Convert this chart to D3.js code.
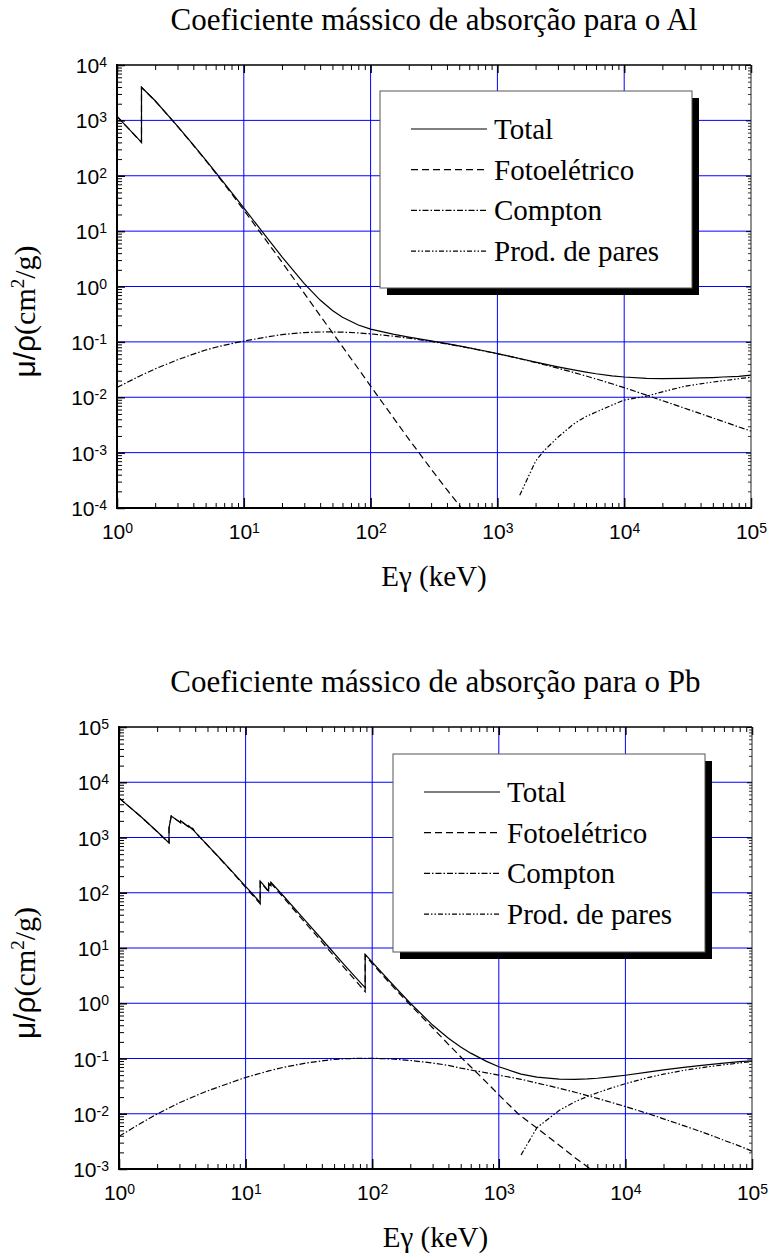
<!DOCTYPE html>
<html>
<head>
<meta charset="utf-8">
<script src="https://cdn.jsdelivr.net/npm/d3@7"></script>
<style>
  body { margin: 0; background: #fff; }
  .serif { font-family: "Liberation Serif", "Times New Roman", Times, serif; }
  .sans { font-family: "Liberation Sans", Arial, Helvetica, sans-serif; }
</style>
</head>
<body>
<svg id="chart"></svg>
<script>
// energies in keV, values in cm2/g
const xExponents = [0, 1, 2, 3, 4, 5];
const alExponents = [-4, -3, -2, -1, 0, 1, 2, 3, 4];
const pbExponents = [-3, -2, -1, 0, 1, 2, 3, 4, 5];
const seriesNames = ["Total", "Fotoelétrico", "Compton", "Prod. de pares"];

const alTotal = [
  [1, 1185], [1.56, 402], [1.56, 3957], [2, 2263], [3, 788], [4, 360], [5, 193], [6, 115],
  [8, 50.3], [10, 26.2], [15, 7.96], [20, 3.44], [30, 1.13], [40, 0.569], [50, 0.368],
  [60, 0.278], [80, 0.202], [100, 0.170], [150, 0.138], [200, 0.122], [300, 0.104],
  [400, 0.0928], [500, 0.0845], [600, 0.078], [800, 0.0684], [1000, 0.0615], [1500, 0.0501],
  [2000, 0.0432], [3000, 0.0354], [4000, 0.0311], [5000, 0.0284], [6000, 0.0266],
  [8000, 0.0244], [10000, 0.0232], [15000, 0.0220], [20000, 0.0217], [30000, 0.0219],
  [40000, 0.0223], [50000, 0.0227], [60000, 0.0232], [80000, 0.0239], [100000, 0.0250]
];
const alPhoto = [
  [1, 1183], [1.56, 400], [1.56, 3950], [2, 2256], [3, 782], [4, 355], [5, 189.5], [6, 112],
  [8, 47.6], [10, 24.0], [15, 6.8], [20, 2.76], [30, 0.752], [40, 0.298], [50, 0.147],
  [60, 0.0822], [80, 0.0327], [100, 0.0159], [150, 0.00438], [200, 0.00176], [300, 0.000506],
  [400, 0.000214], [520, 0.0001]
];
const alCompton = [
  [1, 0.0150], [1.5, 0.0240], [2, 0.0326], [3, 0.0475], [4, 0.060], [5, 0.0712], [6, 0.080],
  [8, 0.093], [10, 0.1034], [15, 0.122], [20, 0.1355], [30, 0.147], [40, 0.1508], [50, 0.1513],
  [60, 0.1499], [80, 0.1451], [100, 0.1395], [150, 0.1268], [200, 0.1166], [300, 0.1019],
  [400, 0.0914], [500, 0.0835], [600, 0.0773], [800, 0.0679], [1000, 0.0611], [1500, 0.0496],
  [2000, 0.0424], [3000, 0.0335], [4000, 0.0280], [5000, 0.0242], [6000, 0.0214],
  [8000, 0.0175], [10000, 0.0149], [15000, 0.0109], [20000, 0.00869], [30000, 0.00634],
  [40000, 0.00506], [50000, 0.00424], [60000, 0.00367], [80000, 0.00291], [100000, 0.00245]
];
const alPair = [
  [1500, 0.00017], [2000, 0.0007], [2300, 0.00105], [3000, 0.0019], [4000, 0.0033],
  [5000, 0.0045], [6000, 0.0054], [8000, 0.0072], [10000, 0.0089], [15000, 0.0105],
  [20000, 0.0125], [30000, 0.0158], [40000, 0.0175], [50000, 0.0188], [60000, 0.0198],
  [80000, 0.0216], [100000, 0.0230]
];

const pbTotal = [
  [1, 5210], [1.5, 2356], [2, 1285], [2.484, 800], [2.484, 1500], [2.586, 2450], [3.066, 1857],
  [3.066, 2010], [3.554, 1550], [3.554, 1620], [3.851, 1380], [3.851, 1420], [4, 1251],
  [5, 730], [6, 467], [8, 229], [10, 130.6], [13.04, 67], [13.04, 162], [15, 112], [15.2, 108],
  [15.2, 148], [15.86, 134], [15.86, 155], [20, 86.4], [30, 30.3], [40, 14.4], [50, 8.04],
  [60, 5.02], [80, 2.42], [88, 1.91], [88, 7.68], [100, 5.55], [150, 2.01], [200, 0.999],
  [300, 0.403], [400, 0.232], [500, 0.161], [600, 0.125], [800, 0.0887], [1000, 0.0710],
  [1500, 0.0522], [2000, 0.0461], [3000, 0.0423], [4000, 0.0420], [5000, 0.0427],
  [6000, 0.0439], [8000, 0.0468], [10000, 0.0497], [15000, 0.0566], [20000, 0.0621],
  [30000, 0.0698], [40000, 0.0753], [50000, 0.0794], [60000, 0.0826], [80000, 0.0875],
  [100000, 0.0910]
];
const pbPhoto = [
  [1, 5200], [1.5, 2350], [2, 1280], [2.484, 797], [2.484, 1490], [2.586, 2440], [3.066, 1850],
  [3.066, 2000], [3.554, 1540], [3.554, 1610], [3.851, 1370], [3.851, 1410], [4, 1240],
  [5, 724], [6, 462], [8, 225], [10, 124.7], [13.04, 63], [13.04, 158], [15, 108], [15.2, 104],
  [15.2, 144], [15.86, 130], [15.86, 150], [20, 80.4], [30, 27.7], [40, 12.9], [50, 7.17],
  [60, 4.42], [80, 2.08], [88, 1.62], [88, 7.4], [100, 5.23], [150, 1.86], [200, 0.93],
  [300, 0.36], [400, 0.18], [515, 0.1], [600, 0.071], [800, 0.037], [1000, 0.022],
  [1420, 0.01], [2000, 0.0055], [3000, 0.0027], [4000, 0.0016], [5300, 0.001]
];
const pbCompton = [
  [1, 0.0039], [1.5, 0.0068], [2, 0.0099], [3, 0.0158], [4, 0.021], [5, 0.0259], [6, 0.030],
  [8, 0.038], [10, 0.0454], [15, 0.059], [20, 0.0693], [30, 0.0827], [40, 0.0905],
  [50, 0.0960], [60, 0.0990], [80, 0.1010], [100, 0.1010], [150, 0.0975], [200, 0.092],
  [300, 0.083], [400, 0.075], [500, 0.067], [600, 0.062], [800, 0.055], [1000, 0.050],
  [1500, 0.042], [2000, 0.036], [3000, 0.029], [4000, 0.0245], [5000, 0.0213], [6000, 0.019],
  [8000, 0.0157], [10000, 0.0135], [15000, 0.0101], [20000, 0.0081], [30000, 0.0059],
  [40000, 0.0047], [50000, 0.0039], [60000, 0.0033], [80000, 0.0026], [100000, 0.0021]
];
const pbPair = [
  [1500, 0.0018], [2000, 0.0056], [3000, 0.0115], [4000, 0.0165], [5000, 0.0205],
  [6000, 0.024], [8000, 0.030], [10000, 0.035], [15000, 0.045], [20000, 0.052],
  [30000, 0.062], [40000, 0.068], [50000, 0.073], [60000, 0.077], [80000, 0.083],
  [100000, 0.088]
];

const width = 773;
const height = 1254;
const dashList = [null, "7,4", "6,2,1.5,2", "5,2,1.5,2,1.5,2"];

const svg = d3.select("#chart").attr("width", width).attr("height", height);

const minorValues = (exps) =>
  exps.slice(0, -1).flatMap((e) => d3.range(2, 10).map((k) => k * 10 ** e));

// "10" with the exponent raised, as in the original
const supLabels = (sel) => {
  sel.attr("font-family", null).attr("font-size", 21).attr("class", "sans");
  sel.selectAll(".tick text").each(function (d) {
    const t = d3.select(this);
    const e = Math.round(Math.log10(d));
    t.text(null).attr("fill", "#000");
    t.append("tspan").text("10");
    t.append("tspan").attr("dy", -6).attr("font-size", 14).text(e);
  });
};

const cleanAxis = (sel, w) => {
  sel.select(".domain").remove();
  sel.selectAll("line").attr("stroke", "#000").attr("stroke-width", w);
};

const drawChart = (cfg) => {
  const { left, right, top, bottom } = cfg.box;
  const x = d3.scaleLog().domain([1, 1e5]).range([left, right]);
  const y = d3.scaleLog().domain(cfg.yDomain).range([bottom, top]);
  const xMajor = xExponents.map((e) => 10 ** e);
  const yMajor = cfg.yExp.map((e) => 10 ** e);
  const g = svg.append("g").attr("class", "panel-" + cfg.id);

  // blue grid at every decade
  g.append("g")
    .selectAll("line")
    .data(xMajor.slice(1, -1))
    .join("line")
    .attr("x1", (d) => x(d))
    .attr("x2", (d) => x(d))
    .attr("y1", top)
    .attr("y2", bottom)
    .attr("stroke", "#0000ff")
    .attr("stroke-width", 1);
  g.append("g")
    .selectAll("line")
    .data(yMajor.slice(1, -1))
    .join("line")
    .attr("x1", left)
    .attr("x2", right)
    .attr("y1", (d) => y(d))
    .attr("y2", (d) => y(d))
    .attr("stroke", "#0000ff")
    .attr("stroke-width", 1);

  // curves
  const clipId = "clip-" + cfg.id;
  svg.append("clipPath").attr("id", clipId)
    .append("rect")
    .attr("x", left).attr("y", top)
    .attr("width", right - left).attr("height", bottom - top);

  const line = d3.line().x((d) => x(d[0])).y((d) => y(d[1]));
  g.append("g")
    .attr("clip-path", `url(#${clipId})`)
    .selectAll("path")
    .data(cfg.series)
    .join("path")
    .attr("d", (d) => line(d))
    .attr("fill", "none")
    .attr("stroke", "#000")
    .attr("stroke-width", 1.2)
    .attr("stroke-dasharray", (d, i) => dashList[i]);

  // axes: ticks point inward
  const xMinor = minorValues(xExponents);
  const yMinor = minorValues(cfg.yExp);

  g.append("g")
    .attr("transform", `translate(0,${bottom})`)
    .call(d3.axisBottom(x).tickValues(xMinor).tickSizeInner(-5).tickSizeOuter(0).tickFormat(""))
    .call(cleanAxis, 1);
  g.append("g")
    .attr("transform", `translate(0,${bottom})`)
    .call(d3.axisBottom(x).tickValues(xMajor).tickSizeInner(-10).tickSizeOuter(0))
    .call(cleanAxis, 1.5)
    .call(supLabels)
    .call((sel) => sel.selectAll(".tick text").attr("y", 31).attr("dy", null));

  g.append("g")
    .attr("transform", `translate(${left},0)`)
    .call(d3.axisLeft(y).tickValues(yMinor).tickSizeInner(-5).tickSizeOuter(0).tickFormat(""))
    .call(cleanAxis, 1);
  g.append("g")
    .attr("transform", `translate(${left},0)`)
    .call(d3.axisLeft(y).tickValues(yMajor).tickSizeInner(-8).tickSizeOuter(0))
    .call(cleanAxis, 1.5)
    .call(supLabels)
    .call((sel) => sel.selectAll(".tick text").attr("x", -10).attr("dy", "0.36em"));

  g.append("g")
    .attr("transform", `translate(0,${top})`)
    .call(d3.axisTop(x).tickValues(xMinor).tickSizeInner(-5).tickSizeOuter(0).tickFormat(""))
    .call(cleanAxis, 1);
  g.append("g")
    .attr("transform", `translate(0,${top})`)
    .call(d3.axisTop(x).tickValues(xMajor).tickSizeInner(-8).tickSizeOuter(0).tickFormat(""))
    .call(cleanAxis, 1.5);

  g.append("g")
    .attr("transform", `translate(${right},0)`)
    .call(d3.axisRight(y).tickValues(yMinor).tickSizeInner(-3).tickSizeOuter(0).tickFormat(""))
    .call(cleanAxis, 0.8);
  g.append("g")
    .attr("transform", `translate(${right},0)`)
    .call(d3.axisRight(y).tickValues(yMajor).tickSizeInner(-5).tickSizeOuter(0).tickFormat(""))
    .call(cleanAxis, 1);

  // frame
  g.append("line").attr("x1", left).attr("x2", left).attr("y1", top - 1).attr("y2", bottom + 1)
    .attr("stroke", "#000").attr("stroke-width", 2);
  g.append("line").attr("x1", left - 1).attr("x2", right + 1).attr("y1", bottom).attr("y2", bottom)
    .attr("stroke", "#000").attr("stroke-width", 2);
  g.append("line").attr("x1", left).attr("x2", right).attr("y1", top).attr("y2", top)
    .attr("stroke", "#000").attr("stroke-width", 1.5);
  g.append("line").attr("x1", right).attr("x2", right).attr("y1", top).attr("y2", bottom)
    .attr("stroke", "#222").attr("stroke-width", 1);

  // legend with drop shadow
  const lg = g.append("g").attr("transform", `translate(${cfg.legend.x},${cfg.legend.y})`);
  lg.append("rect")
    .attr("x", 7).attr("y", 7)
    .attr("width", cfg.legend.w).attr("height", cfg.legend.h)
    .attr("fill", "#000");
  lg.append("rect")
    .attr("width", cfg.legend.w).attr("height", cfg.legend.h)
    .attr("fill", "#fff").attr("stroke", "#555").attr("stroke-width", 1);
  const rows = lg.selectAll(".legend-row")
    .data(seriesNames)
    .join("g")
    .attr("class", "legend-row")
    .attr("transform", (d, i) => `translate(0,${38 + i * 40.7})`);
  rows.append("line")
    .attr("x1", 31).attr("x2", 107)
    .attr("stroke", "#000").attr("stroke-width", 1.2)
    .attr("stroke-dasharray", (d, i) => dashList[i]);
  rows.append("text")
    .attr("class", "serif")
    .attr("x", 114).attr("y", 10)
    .attr("font-size", 29)
    .text((d) => d);

  // titles
  const cx = (left + right) / 2;
  g.append("text")
    .attr("class", "serif")
    .attr("x", cx).attr("y", top - 35)
    .attr("text-anchor", "middle")
    .attr("font-size", 31)
    .text(cfg.title);

  g.append("text")
    .attr("class", "serif")
    .attr("x", cx).attr("y", bottom + 78)
    .attr("text-anchor", "middle")
    .attr("font-size", 29)
    .text("Eγ (keV)");

  const yl = g.append("text")
    .attr("class", "serif")
    .attr("text-anchor", "middle")
    .attr("transform", `translate(35,${(top + bottom) / 2 + 25}) rotate(-90)`)
    .attr("font-size", 30);
  yl.append("tspan").attr("class", "sans").text("μ/ρ");
  yl.append("tspan").text("(cm");
  yl.append("tspan").attr("font-size", 19).attr("dy", -11).text("2");
  yl.append("tspan").attr("dy", 11).text("/g)");
};

drawChart({
  id: "al",
  title: "Coeficiente mássico de absorção para o Al",
  box: { left: 117, right: 751, top: 65, bottom: 508 },
  yDomain: [1e-4, 1e4],
  yExp: alExponents,
  series: [alTotal, alPhoto, alCompton, alPair],
  legend: { x: 380, y: 91, w: 312, h: 197 }
});

drawChart({
  id: "pb",
  title: "Coeficiente mássico de absorção para o Pb",
  box: { left: 119, right: 752, top: 727, bottom: 1169 },
  yDomain: [1e-3, 1e5],
  yExp: pbExponents,
  series: [pbTotal, pbPhoto, pbCompton, pbPair],
  legend: { x: 393, y: 754, w: 312, h: 198 }
});
</script>
</body>
</html>
